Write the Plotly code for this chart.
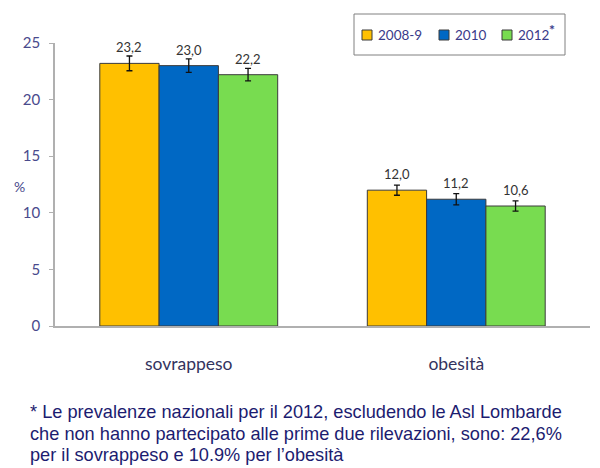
import plotly.graph_objects as go

categories = ["sovrappeso", "obesità"]
series_names = ["2008-9", "2010", "2012"]
values_2008 = [23.2, 12.0]
values_2010 = [23.0, 11.2]
values_2012 = [22.2, 10.6]
err_2008 = [0.65, 0.45]
err_2010 = [0.6, 0.5]
err_2012 = [0.55, 0.45]
value_labels_2008 = ["23,2", "12,0"]
value_labels_2010 = ["23,0", "11,2"]
value_labels_2012 = ["22,2", "10,6"]
y_ticks = [0, 5, 10, 15, 20, 25]
footnote_lines = [
    "* Le prevalenze nazionali per il 2012, escludendo le Asl Lombarde",
    "che non hanno partecipato alle prime due rilevazioni, sono: 22,6%",
    "per il sovrappeso e 10.9% per l\u2019obesità",
]

colors = ["#FFC000", "#0068C4", "#78DC50"]
OFF = 8  # page body margin
W, H = 600, 468
# plot area in window pixels: x 55..590, y 43..326
ML = 55 - OFF
MT = 43 - OFF
MR = W - (590 - OFF)
MB = H - (326 - OFF)
BARGAP = 0.335
plot_w = W - ML - MR
plot_h = H - MT - MB


def px_x(x):
    return (x - OFF - ML) / plot_w


def px_y(y):
    return (H - MB - (y - OFF)) / plot_h


series = [
    (series_names[0], values_2008, err_2008, value_labels_2008, colors[0]),
    (series_names[1], values_2010, err_2010, value_labels_2010, colors[1]),
    (series_names[2], values_2012, err_2012, value_labels_2012, colors[2]),
]

fig = go.Figure()
for name, vals, errs, labs, col in series:
    fig.add_trace(go.Bar(
        x=categories, y=vals, name=name,
        marker=dict(color=col, line=dict(color="#3a3a3a", width=1)),
        error_y=dict(type="data", array=errs, visible=True, color="#111111",
                     thickness=1.3, width=3),
    ))

cat_w = plot_w / len(categories)
bar_w = cat_w * (1 - BARGAP) / len(series)
annotations = []
for i, (name, vals, errs, labs, col) in enumerate(series):
    shift = (i - (len(series) - 1) / 2) * bar_w
    for c, v, lab in zip(categories, vals, labs):
        annotations.append(dict(
            x=c, y=v, xref="x", yref="y", text=lab, showarrow=False,
            xshift=shift, yshift=16, yanchor="middle",
            font=dict(family="Lato, Carlito, sans-serif", size=13, color="#333333"),
        ))

# "%" axis label
annotations.append(dict(
    x=px_x(19), y=px_y(186), xref="paper", yref="paper", text="%", showarrow=False,
    xanchor="center", yanchor="middle",
    font=dict(family="Lato, sans-serif", size=14, color="#4a4a8c"),
))

# footnote, one line per annotation to match the line spacing
for k, line in enumerate(footnote_lines):
    annotations.append(dict(
        x=px_x(28), y=px_y(412 + 21.5 * k), xref="paper", yref="paper", text=line,
        showarrow=False, align="left", xanchor="left", yanchor="middle",
        font=dict(family="Liberation Sans, Arial, sans-serif", size=18.2, color="#1c1c70"),
    ))

# legend drawn as box + swatches + labels
shapes = [dict(type="rect", xref="paper", yref="paper",
               x0=px_x(354), x1=px_x(565), y0=px_y(14), y1=px_y(55),
               line=dict(color="#808080", width=1), fillcolor="white", layer="above")]
legend_sw_x = [362, 439, 502]
for sx, lab, col in zip(legend_sw_x, series_names, colors):
    shapes.append(dict(type="rect", xref="paper", yref="paper",
                       x0=px_x(sx), x1=px_x(sx + 10), y0=px_y(30), y1=px_y(40),
                       line=dict(color="#3a3a3a", width=1), fillcolor=col, layer="above"))
    annotations.append(dict(
        x=px_x(sx + 14), y=px_y(35), xref="paper", yref="paper", text=lab,
        showarrow=False, xanchor="left", yanchor="middle",
        font=dict(family="Lato, Carlito, sans-serif", size=13.5, color="#3a3a8a"),
    ))
annotations.append(dict(
    x=px_x(552), y=px_y(30), xref="paper", yref="paper", text="<b>*</b>",
    showarrow=False, xanchor="center", yanchor="middle",
    font=dict(family="Lato, Carlito, sans-serif", size=14, color="#3a3a8a"),
))

fig.update_layout(
    width=W, height=H,
    margin=dict(l=ML, r=MR, t=MT, b=MB, autoexpand=False),
    paper_bgcolor="white", plot_bgcolor="white",
    barmode="group", bargap=BARGAP, bargroupgap=0,
    showlegend=False,
    xaxis=dict(
        showline=True, linecolor="#b0b0b0", linewidth=1.5,
        ticks="", showgrid=False, ticklabelstandoff=21,
        tickfont=dict(family="Lato, Carlito, sans-serif", size=17.5, color="#33335e"),
    ),
    yaxis=dict(
        range=[0, 25], tickvals=y_ticks, showline=True, linecolor="#b0b0b0",
        linewidth=1.5, ticks="outside", ticklen=4, tickcolor="#b0b0b0",
        showgrid=False, zeroline=False, ticklabelstandoff=6,
        tickfont=dict(family="Lato, Carlito, sans-serif", size=15, color="#4a4a8c"),
    ),
    annotations=annotations,
    shapes=shapes,
)

fig.write_html("out.html")
